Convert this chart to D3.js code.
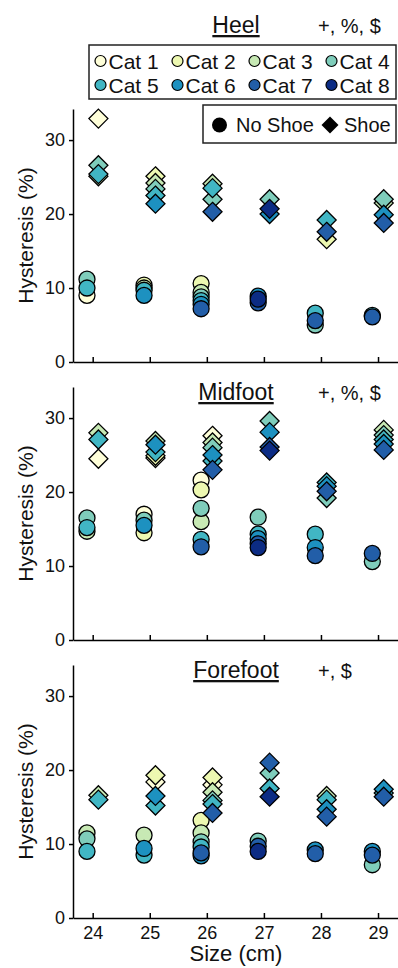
<!doctype html>
<html lang="en">
<head>
  <meta charset="utf-8">
  <title>Hysteresis by size</title>
  <style>
    body { margin: 0; background: #fff; }
    svg { display: block; font-family: "Liberation Sans", Arial, sans-serif; }
  </style>
</head>
<body>
  <script src="https://cdn.jsdelivr.net/npm/d3@7"></script>
  <script>
    // Data (rows = categories, columns = sizes; null = no point)
    const sizes = [24, 25, 26, 27, 28, 29];
    const categories = ['Cat 1', 'Cat 2', 'Cat 3', 'Cat 4', 'Cat 5', 'Cat 6', 'Cat 7', 'Cat 8'];
    const regions = ['Heel', 'Midfoot', 'Forefoot'];
    const regionTags = ['+, %, $', '+, %, $', '+, $'];
    const yTicks = [0, 10, 20, 30];

    const heelNoShoe = [
      [9.0, null, null, null, null, null],
      [null, 10.4, 10.6, null, null, null],
      [null, 10.0, 9.4, null, null, null],
      [11.2, null, 8.8, null, 5.0, null],
      [10.0, 9.7, 8.3, null, 6.6, 6.3],
      [null, 9.0, 7.8, 8.9, null, null],
      [null, null, 7.2, 8.0, 5.6, 6.1],
      [null, null, null, 8.5, null, null]
    ];
    const heelShoe = [
      [32.9, null, null, null, null, null],
      [null, 25.1, null, null, 16.6, null],
      [25.1, 24.2, 24.1, null, null, 21.5],
      [26.6, 23.4, 22.0, 22.0, null, 22.0],
      [25.4, 22.5, 23.5, null, 19.2, null],
      [null, 21.4, null, 20.0, null, 19.9],
      [null, null, 20.3, null, 17.6, 18.8],
      [null, null, null, 20.7, null, null]
    ];
    const midNoShoe = [
      [null, 17.0, 21.6, null, null, null],
      [null, 14.5, 20.3, null, null, null],
      [14.7, null, 16.0, null, null, null],
      [16.5, 16.2, 17.8, 16.6, null, 10.6],
      [15.2, null, 13.6, 14.3, 14.3, null],
      [null, 15.5, null, 13.7, 12.5, null],
      [null, null, 12.6, 13.0, 11.4, 11.7],
      [null, null, null, 12.5, null, null]
    ];
    const midShoe = [
      [24.5, 24.6, 27.6, null, null, null],
      [null, 24.9, null, null, null, null],
      [28.0, 26.9, 26.7, null, null, 28.4],
      [null, null, 26.0, 29.6, 19.2, 27.7],
      [27.1, 25.4, 24.2, null, 21.3, 27.1],
      [null, 26.4, 25.0, 28.1, 20.8, 26.5],
      [null, null, 23.0, 26.1, 20.1, 25.7],
      [null, null, null, 25.6, null, null]
    ];
    const foreNoShoe = [
      [null, null, null, null, null, null],
      [null, null, 13.2, null, null, null],
      [11.5, 11.2, 11.5, null, null, null],
      [10.7, null, 10.3, 10.4, null, 7.2],
      [9.0, 8.5, 9.6, null, null, null],
      [null, 9.4, 8.4, null, 9.2, 9.0],
      [null, null, 8.8, 9.7, 8.7, 8.5],
      [null, null, null, 9.0, null, null]
    ];
    const foreShoe = [
      [null, 18.4, 18.0, null, null, null],
      [null, 19.3, 19.0, null, null, null],
      [16.6, null, 17.0, null, 16.5, null],
      [null, null, 15.9, 19.6, null, null],
      [16.0, 15.2, 15.4, 17.5, 16.0, 16.9],
      [null, 16.5, null, null, 14.7, 17.4],
      [null, null, 14.2, 21.0, 13.7, 16.4],
      [null, null, null, 16.4, null, null]
    ];

    const noShoeData = [heelNoShoe, midNoShoe, foreNoShoe];
    const shoeData = [heelShoe, midShoe, foreShoe];

    const colors = d3.schemeYlGnBu[8];

    const w = 398;
    const h = 968;
    const left = 73;
    const panelTops = [109, 387, 665];
    const panelH = 253;
    const offset = 0.1;

    const svg = d3.select('body')
                  .append('svg')
                  .attr('width', w)
                  .attr('height', h);

    svg.append('rect').attr('width', w).attr('height', h).attr('fill', '#fff');

    const xScale = d3.scaleLinear()
                     .domain([23.655, 29.35])
                     .range([left, w]);

    const diamond = (s) => `M0,${-s}L${s},0L0,${s}L${-s},0Z`;

    // flatten a category x size table into points
    const toPoints = (table) => {
      const pts = [];
      table.forEach((row, ci) => {
        row.forEach((v, si) => {
          if (v !== null) pts.push({cat: ci, size: sizes[si], value: v});
        });
      });
      return pts;
    };

    regions.forEach((name, i) => {
      const top = panelTops[i];
      const yScale = d3.scaleLinear()
                       .domain([0, 34.2])
                       .range([top + panelH, top]);

      const g = svg.append('g');

      // axes
      const yAxis = d3.axisLeft(yScale)
                      .tickValues(yTicks)
                      .tickSize(4)
                      .tickPadding(4)
                      .tickSizeOuter(0);
      const yg = g.append('g')
                  .attr('transform', `translate(${left}, 0)`)
                  .call(yAxis);

      const xAxis = d3.axisBottom(xScale)
                      .tickValues(sizes)
                      .tickSize(-5)
                      .tickPadding(8)
                      .tickSizeOuter(0)
                      .tickFormat(i === 2 ? d3.format('d') : () => '');
      const xg = g.append('g')
                  .attr('transform', `translate(0, ${top + panelH})`)
                  .call(xAxis);

      [yg, xg].forEach((a) => {
        a.selectAll('path, line').attr('stroke', '#000').attr('stroke-width', 1.5);
        a.selectAll('text').attr('font-size', 18).attr('fill', '#111')
         .attr('font-family', '"Liberation Sans", Arial, sans-serif');
      });

      // y label
      g.append('text')
       .attr('transform', `translate(33, ${top + panelH / 2}) rotate(-90)`)
       .attr('text-anchor', 'middle')
       .attr('font-size', 21)
       .attr('fill', '#111')
       .text('Hysteresis (%)');

      // title + tag
      const titleY = i === 0 ? 33 : top + 13;
      g.append('text')
       .attr('x', 236)
       .attr('y', titleY)
       .attr('text-anchor', 'middle')
       .attr('font-size', 23)
       .attr('fill', '#111')
       .style('text-decoration', 'underline')
       .text(name);
      g.append('text')
       .attr('x', 318)
       .attr('y', titleY)
       .attr('font-size', 20)
       .attr('fill', '#111')
       .text(regionTags[i]);

      // no shoe circles
      g.append('g')
       .selectAll('circle')
       .data(toPoints(noShoeData[i]))
       .enter()
       .append('circle')
       .attr('cx', (d) => xScale(d.size - offset))
       .attr('cy', (d) => yScale(d.value))
       .attr('r', 8)
       .attr('fill', (d) => colors[d.cat])
       .attr('stroke', '#000')
       .attr('stroke-width', 1.3);

      // shoe diamonds
      g.append('g')
       .selectAll('path')
       .data(toPoints(shoeData[i]))
       .enter()
       .append('path')
       .attr('d', diamond(9.5))
       .attr('transform', (d) => `translate(${xScale(d.size + offset)}, ${yScale(d.value)})`)
       .attr('fill', (d) => colors[d.cat])
       .attr('stroke', '#000')
       .attr('stroke-width', 1.3);
    });

    // x label
    svg.append('text')
       .attr('x', 236)
       .attr('y', 961)
       .attr('text-anchor', 'middle')
       .attr('font-size', 22)
       .attr('fill', '#111')
       .text('Size (cm)');

    // category legend
    const leg = svg.append('g');
    leg.append('rect')
       .attr('x', 89).attr('y', 45)
       .attr('width', 307).attr('height', 54)
       .attr('fill', '#fff')
       .attr('stroke', '#222')
       .attr('stroke-width', 1.5);
    categories.forEach((c, k) => {
      const cx = 100.5 + (k % 4) * 77;
      const cy = k < 4 ? 61 : 85;
      leg.append('circle')
         .attr('cx', cx).attr('cy', cy).attr('r', 5.5)
         .attr('fill', colors[k])
         .attr('stroke', '#000')
         .attr('stroke-width', 1.2);
      leg.append('text')
         .attr('x', cx + 8).attr('y', cy + 7.5)
         .attr('font-size', 21)
         .attr('fill', '#111')
         .text(c);
    });

    // marker legend
    const leg2 = svg.append('g');
    leg2.append('rect')
        .attr('x', 203).attr('y', 105)
        .attr('width', 193).attr('height', 38)
        .attr('fill', '#fff')
        .attr('stroke', '#222')
        .attr('stroke-width', 1.5);
    leg2.append('circle')
        .attr('cx', 219.5).attr('cy', 125).attr('r', 7.5)
        .attr('fill', '#000');
    leg2.append('text')
        .attr('x', 236).attr('y', 132)
        .attr('font-size', 20)
        .attr('fill', '#111')
        .text('No Shoe');
    leg2.append('path')
        .attr('d', diamond(8.5))
        .attr('transform', 'translate(330, 125)')
        .attr('fill', '#000');
    leg2.append('text')
        .attr('x', 344).attr('y', 132)
        .attr('font-size', 20)
        .attr('fill', '#111')
        .text('Shoe');
  </script>
</body>
</html>
